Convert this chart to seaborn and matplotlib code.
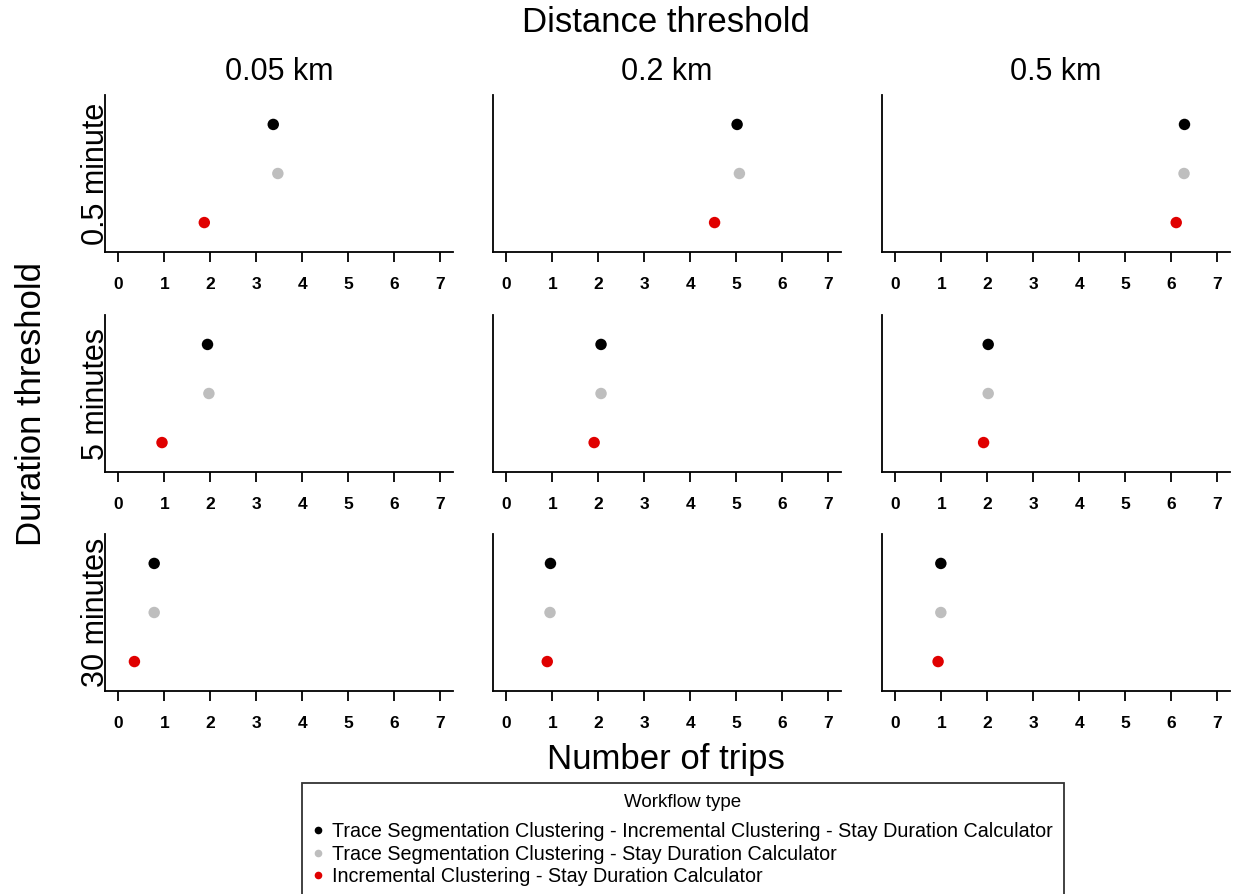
import numpy as np
import pandas as pd
import matplotlib
matplotlib.use("Agg")
import matplotlib.pyplot as plt
from matplotlib.lines import Line2D
import seaborn as sns

# ---------------- data ----------------
distance_levels = ["0.05 km", "0.2 km", "0.5 km"]
duration_levels = ["0.5 minute", "5 minutes", "30 minutes"]
workflows = [
    "Trace Segmentation Clustering - Incremental Clustering - Stay Duration Calculator",
    "Trace Segmentation Clustering - Stay Duration Calculator",
    "Incremental Clustering - Stay Duration Calculator",
]
workflow_colors = ["#000000", "#bebebe", "#e00000"]

# rows = duration threshold, cols = distance threshold
trips_ts_ic_sdc = [[3.37, 5.02, 6.29],
                   [1.94, 2.06, 2.02],
                   [0.78, 0.96, 0.99]]
trips_ts_sdc = [[3.47, 5.07, 6.28],
                [1.97, 2.06, 2.02],
                [0.78, 0.95, 0.99]]
trips_ic_sdc = [[1.87, 4.53, 6.11],
                [0.95, 1.91, 1.92],
                [0.35, 0.89, 0.93]]
x_ticks = [0, 1, 2, 3, 4, 5, 6, 7]

series = [trips_ts_ic_sdc, trips_ts_sdc, trips_ic_sdc]
records = []
# bottom category first so that the first workflow is drawn on top
for w_idx in [2, 1, 0]:
    for r, dur in enumerate(duration_levels):
        for c, dist in enumerate(distance_levels):
            records.append({"workflow": workflows[w_idx],
                            "duration": dur, "distance": dist,
                            "trips": series[w_idx][r][c]})
df = pd.DataFrame(records)
palette = dict(zip(workflows, workflow_colors))

# ---------------- figure ----------------
sns.set_style("white")
plt.rcParams["font.family"] = ["Liberation Sans", "DejaVu Sans"]
plt.rcParams["text.color"] = "black"

W, H = 1239, 894
fig = plt.figure(figsize=(W / 100, H / 100), dpi=100)

col_left = [105, 493, 882]
col_w = 348
row_top = [95, 315, 534]
row_h = 157

for r, dur in enumerate(duration_levels):
    for c, dist in enumerate(distance_levels):
        ax = fig.add_axes([col_left[c] / W, 1 - (row_top[r] + row_h) / H,
                           col_w / W, row_h / H])
        sub = df[(df["duration"] == dur) & (df["distance"] == dist)]
        sns.scatterplot(data=sub, x="trips", y="workflow", hue="workflow",
                        palette=palette, s=68, linewidth=0, legend=False,
                        ax=ax, zorder=3)
        ax.set_xlim(-0.29, 7.28)
        ax.set_ylim(-0.6, 2.6)
        ax.set_xticks(x_ticks)
        ax.set_xticklabels([str(t) for t in x_ticks], fontweight="bold",
                           fontsize=12.5, color="#111111")
        ax.set_yticks([])
        ax.set_xlabel("")
        ax.set_ylabel("")
        for side in ["top", "right"]:
            ax.spines[side].set_visible(False)
        for side in ["left", "bottom"]:
            ax.spines[side].set_color("black")
            ax.spines[side].set_linewidth(1.3)
        ax.tick_params(axis="x", direction="out", length=7.5, width=1.3,
                       pad=10.5, colors="black", bottom=True)
        if r == 0:
            fig.text((col_left[c] + col_w / 2) / W, 1 - 72 / H, dist,
                     ha="center", va="center", fontsize=22)
        if c == 0:
            fig.text(96 / W, 1 - (row_top[r] + row_h / 2) / H, dur,
                     ha="center", va="center", rotation=90, fontsize=22)

fig.text(666 / W, 1 - 23 / H, "Distance threshold", ha="center",
         va="center", fontsize=25)
fig.text(32 / W, 1 - 404 / H, "Duration threshold", ha="center",
         va="center", rotation=90, fontsize=25)
fig.text(666 / W, 1 - 760 / H, "Number of trips", ha="center",
         va="center", fontsize=25)

handles = [Line2D([0], [0], marker="o", linestyle="none", markersize=5.5,
                  markerfacecolor=col, markeredgewidth=0)
           for col in workflow_colors]
leg = fig.legend(handles, workflows, title="Workflow type",
                 loc="upper center", bbox_to_anchor=(683 / W, 1 - 783 / H),
                 fontsize=14.2, title_fontsize=13.5, frameon=True,
                 fancybox=False, edgecolor="black", handlelength=0.5,
                 handletextpad=0.5, labelspacing=0.18, borderpad=0.55,
                 borderaxespad=0)
leg.get_frame().set_linewidth(1.3)
leg._legend_box.sep = 8

fig.savefig("out.png", dpi=100)
